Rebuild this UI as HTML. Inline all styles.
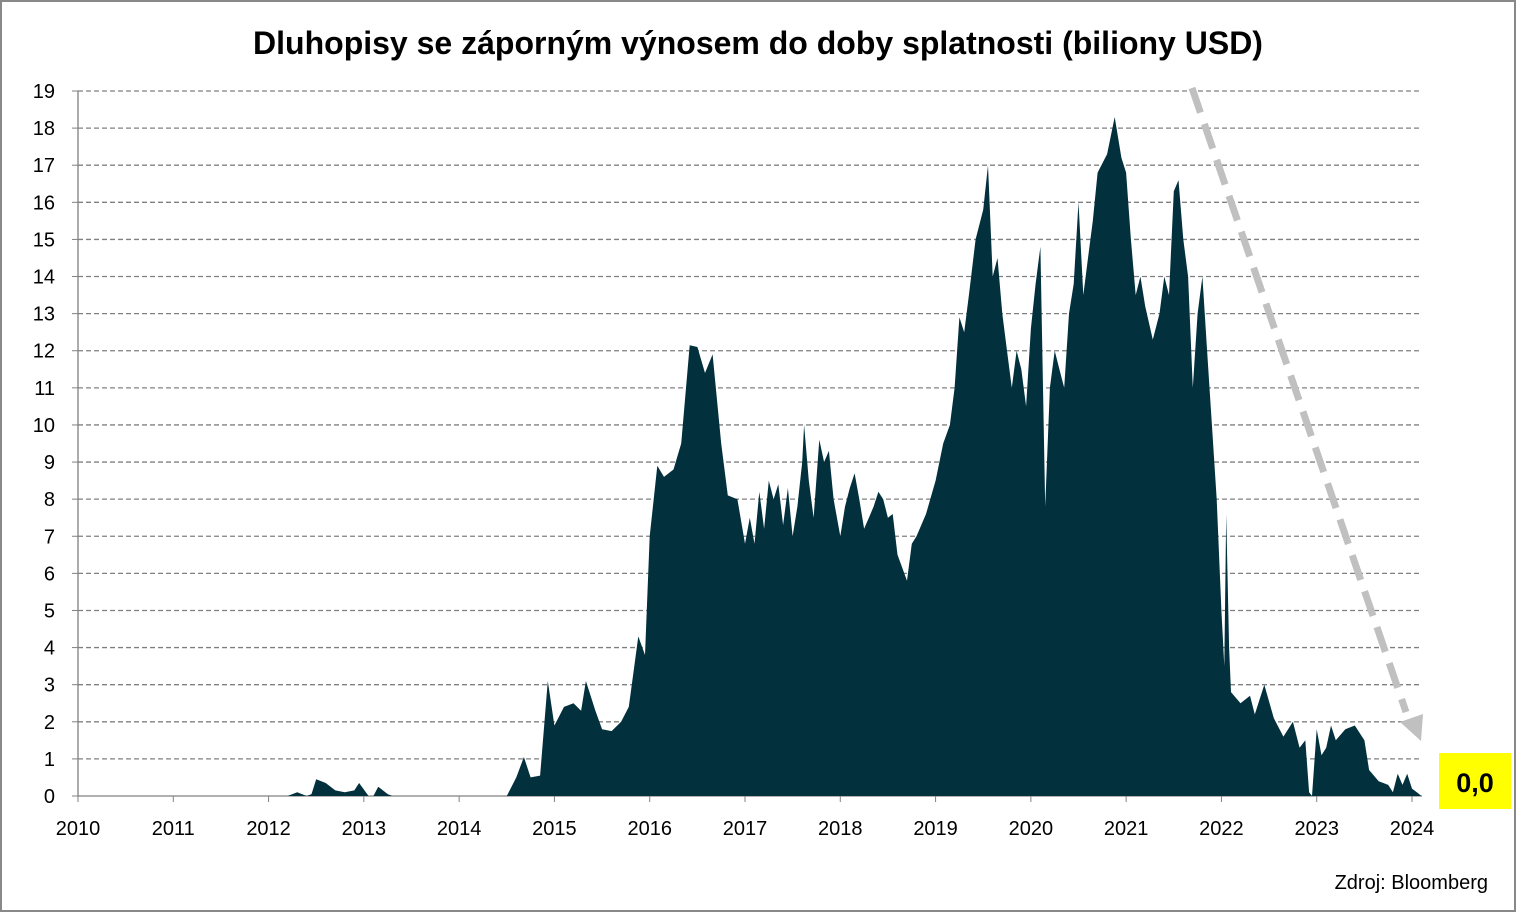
<!DOCTYPE html>
<html><head><meta charset="utf-8">
<style>
html,body{margin:0;padding:0;background:#fff;}
svg{display:block;font-family:"Liberation Sans",Arial,sans-serif;}
</style></head>
<body>
<svg id="chart" width="1517" height="913" viewBox="0 0 1517 913">
<rect x="1" y="1" width="1514" height="910" fill="#fff" stroke="#888" stroke-width="2"/>
<text x="758" y="54" text-anchor="middle" font-size="32" font-weight="bold" fill="#000">Dluhopisy se záporným výnosem do doby splatnosti (biliony USD)</text>
<g id="grid"></g>
<g id="yticks"></g>
<g id="xticks"></g>
<path id="area" fill="#02303d"/>
<line x1="1192" y1="88" x2="1406" y2="712" stroke="#c0c0c0" stroke-width="7" stroke-dasharray="26,12"/>
<polygon points="1421,741 1400,722 1423,714" fill="#c0c0c0"/>
<rect x="1439" y="753" width="72" height="56" fill="#ffff00"/>
<text x="1475" y="792" text-anchor="middle" font-size="27" font-weight="bold" fill="#000">0,0</text>
<text x="1488" y="889" text-anchor="end" font-size="20" fill="#000">Zdroj: Bloomberg</text>
</svg>
<script>
const yearTicks=[2010,2011,2012,2013,2014,2015,2016,2017,2018,2019,2020,2021,2022,2023,2024];
const valueTicks=[0,1,2,3,4,5,6,7,8,9,10,11,12,13,14,15,16,17,18,19];
const dates=[2010.0,2012.2,2012.3,2012.4,2012.45,2012.5,2012.6,2012.7,2012.8,2012.9,2012.95,2013.05,2013.1,2013.15,2013.25,2013.3,2014.5,2014.6,2014.68,2014.75,2014.85,2014.93,2015.0,2015.1,2015.2,2015.28,2015.33,2015.43,2015.5,2015.6,2015.7,2015.78,2015.88,2015.95,2016.0,2016.08,2016.15,2016.25,2016.33,2016.42,2016.5,2016.58,2016.66,2016.75,2016.82,2016.92,2017.0,2017.05,2017.1,2017.15,2017.2,2017.25,2017.3,2017.35,2017.4,2017.45,2017.5,2017.55,2017.6,2017.62,2017.67,2017.72,2017.78,2017.83,2017.88,2017.93,2018.0,2018.05,2018.1,2018.15,2018.2,2018.25,2018.3,2018.35,2018.4,2018.45,2018.5,2018.55,2018.6,2018.7,2018.75,2018.8,2018.9,2019.0,2019.08,2019.15,2019.2,2019.25,2019.3,2019.35,2019.42,2019.5,2019.55,2019.6,2019.65,2019.7,2019.75,2019.8,2019.85,2019.9,2019.95,2020.0,2020.05,2020.1,2020.15,2020.2,2020.25,2020.3,2020.35,2020.4,2020.45,2020.5,2020.55,2020.6,2020.65,2020.7,2020.8,2020.88,2020.95,2021.0,2021.05,2021.1,2021.15,2021.2,2021.28,2021.35,2021.4,2021.45,2021.5,2021.55,2021.6,2021.65,2021.7,2021.75,2021.8,2021.85,2021.9,2021.95,2022.0,2022.03,2022.05,2022.08,2022.1,2022.2,2022.3,2022.35,2022.45,2022.55,2022.65,2022.75,2022.82,2022.88,2022.92,2022.95,2023.0,2023.05,2023.1,2023.15,2023.2,2023.3,2023.4,2023.5,2023.55,2023.65,2023.75,2023.8,2023.85,2023.9,2023.95,2024.0,2024.05,2024.1];
const values=[0,0,0.1,0,0.05,0.45,0.35,0.15,0.1,0.15,0.35,0,0,0.25,0.05,0,0,0.5,1.05,0.5,0.55,3.1,1.9,2.4,2.5,2.3,3.1,2.3,1.8,1.75,2.0,2.4,4.3,3.8,7.0,8.9,8.6,8.8,9.5,12.15,12.1,11.4,11.9,9.5,8.1,8.0,6.8,7.5,6.8,8.2,7.2,8.5,8.0,8.4,7.3,8.3,7.0,7.8,9.0,10.0,8.5,7.5,9.6,9.0,9.3,8.0,7.0,7.8,8.3,8.7,8.0,7.2,7.5,7.8,8.2,8.0,7.5,7.6,6.5,5.8,6.8,7.0,7.6,8.5,9.5,10.0,11.0,12.9,12.5,13.5,15.0,15.8,17.0,14.0,14.5,13.0,12.0,11.0,12.0,11.5,10.5,12.6,13.8,14.8,7.8,11.0,12.0,11.5,11.0,13.0,13.8,16.0,13.5,14.5,15.5,16.8,17.3,18.3,17.2,16.8,15.0,13.5,14.0,13.2,12.3,13.0,14.0,13.5,16.3,16.6,15.0,14.0,11.0,13.0,14.0,12.0,10.0,8.0,5.0,3.5,7.6,4.0,2.8,2.5,2.7,2.2,3.0,2.1,1.6,2.0,1.3,1.5,0.1,0,1.8,1.1,1.3,1.9,1.5,1.8,1.9,1.5,0.7,0.4,0.3,0.1,0.6,0.3,0.6,0.2,0.1,0];
const X0=78,X1=1412,Y0=796,Y1=91;
function xs(t){return X0+(t-2010)/(2024-2010)*(X1-X0);}
function ys(v){return Y0-v/19*(Y0-Y1);}
const NS="http://www.w3.org/2000/svg";
const grid=document.getElementById('grid'),yt=document.getElementById('yticks'),xt=document.getElementById('xticks');
valueTicks.forEach(v=>{
  const y=ys(v);
  if(v>0){const l=document.createElementNS(NS,'line');
  l.setAttribute('x1',X0);l.setAttribute('x2',1422);l.setAttribute('y1',y);l.setAttribute('y2',y);
  l.setAttribute('stroke','#808080');l.setAttribute('stroke-width','1.3');l.setAttribute('stroke-dasharray','5,3');
  
  
  grid.appendChild(l);}
  const tk=document.createElementNS(NS,'line');
  tk.setAttribute('x1',X0-6);tk.setAttribute('x2',X0);tk.setAttribute('y1',y);tk.setAttribute('y2',y);tk.setAttribute('stroke','#808080');
  yt.appendChild(tk);
  const t=document.createElementNS(NS,'text');
  t.setAttribute('x',55);t.setAttribute('y',y+7);t.setAttribute('text-anchor','end');t.setAttribute('font-size','20');
  t.textContent=v;
  
  
  yt.appendChild(t);
});
const ax=document.createElementNS(NS,'line');
ax.setAttribute('x1',X0);ax.setAttribute('x2',X0);ax.setAttribute('y1',Y1);ax.setAttribute('y2',Y0);ax.setAttribute('stroke','#808080');ax.setAttribute('stroke-width','1.3');
yt.appendChild(ax);
const bx=document.createElementNS(NS,'line');
bx.setAttribute('x1',X0);bx.setAttribute('x2',1422);bx.setAttribute('y1',Y0);bx.setAttribute('y2',Y0);bx.setAttribute('stroke','#808080');bx.setAttribute('stroke-width','1.3');
xt.appendChild(bx);
yearTicks.forEach(yr=>{
  const x=xs(yr);
  const tk=document.createElementNS(NS,'line');
  tk.setAttribute('x1',x);tk.setAttribute('x2',x);tk.setAttribute('y1',Y0);tk.setAttribute('y2',Y0+6);tk.setAttribute('stroke','#808080');
  xt.appendChild(tk);
  const t=document.createElementNS(NS,'text');
  t.setAttribute('x',x);t.setAttribute('y',835);t.setAttribute('text-anchor','middle');t.setAttribute('font-size','20');
  t.textContent=yr;
  
  
  xt.appendChild(t);
});
let d='M'+xs(dates[0])+','+Y0;
dates.forEach((t,i)=>{d+=' L'+xs(t).toFixed(1)+','+ys(values[i]).toFixed(1);});
d+=' L'+xs(dates[dates.length-1])+','+Y0+' Z';
document.getElementById('area').setAttribute('d',d);
</script>
</body></html>
